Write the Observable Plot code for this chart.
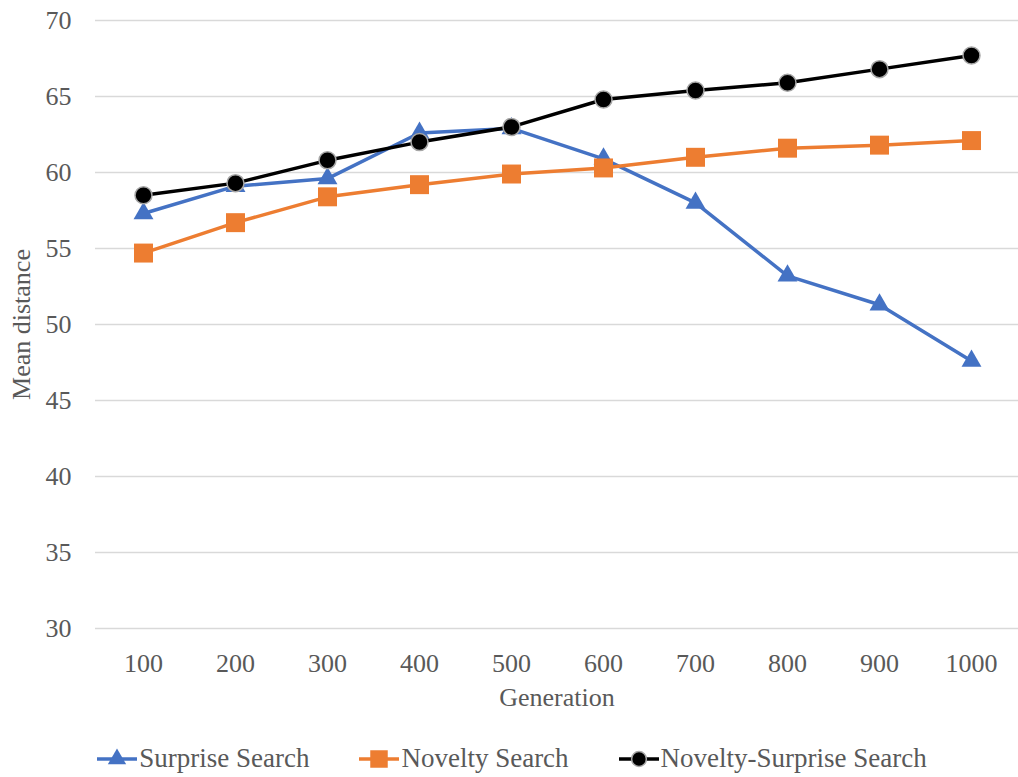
<!DOCTYPE html>
<html>
<head>
<meta charset="utf-8">
<script src="https://cdn.jsdelivr.net/npm/d3@7"></script>
<script src="https://cdn.jsdelivr.net/npm/@observablehq/plot@0.6"></script>
<style>
  html, body { margin: 0; padding: 0; background: #fff; }
  #chart { width: 1018px; }
  .legend { display: flex; justify-content: center; align-items: center; gap: 50px;
    font-family: "Liberation Serif", "Times New Roman", Tinos, "DejaVu Serif", serif; font-size: 27px; color: #595959;
    height: 57px; padding-top: 20px; box-sizing: border-box; padding-left: 6px; }
  .legend .item { display: flex; align-items: center; }
  .legend svg { display: block; margin-right: 2px; }
  svg text { font-family: "Liberation Serif", "Times New Roman", Tinos, "DejaVu Serif", serif; }
</style>
</head>
<body>
<div id="chart"></div>
<script>
const generations = [100, 200, 300, 400, 500, 600, 700, 800, 900, 1000];
const surprise = [57.3, 59.1, 59.6, 62.6, 62.9, 60.9, 58.0, 53.2, 51.3, 47.6];
const novelty = [54.7, 56.7, 58.4, 59.2, 59.9, 60.3, 61.0, 61.6, 61.8, 62.1];
const noveltySurprise = [58.5, 59.3, 60.8, 62.0, 63.0, 64.8, 65.4, 65.9, 66.8, 67.7];
const seriesNames = ["Surprise Search", "Novelty Search", "Novelty-Surprise Search"];
const yTicks = [30, 35, 40, 45, 50, 55, 60, 65, 70];

const colors = ["#4472C4", "#ED7D31", "#000000"];
const seriesValues = [surprise, novelty, noveltySurprise];
const tables = seriesValues.map((vals, i) =>
  generations.map((g, j) => ({ generation: g, value: vals[j], series: seriesNames[i] })));

const font = '"Liberation Serif", "Times New Roman", Tinos, "DejaVu Serif", serif';

const plot = Plot.plot({
  width: 1018,
  height: 720,
  marginTop: 20,
  marginBottom: 92,
  marginLeft: 95,
  marginRight: 0,
  style: { fontFamily: font, background: "#fff", overflow: "visible" },
  x: { type: "point", domain: generations, padding: 0.5 },
  y: { domain: [30, 70] },
  marks: [
    Plot.gridY(yTicks, { stroke: "#d9d9d9", strokeOpacity: 1, strokeWidth: 1.5 }),
    Plot.axisY(yTicks, { tickSize: 0, tickPadding: 24, fontSize: 26, fill: "#595959",
      label: "Mean distance", labelAnchor: "center", labelArrow: "none", labelOffset: 84 }),
    Plot.axisX(generations, { tickSize: 0, tickPadding: 25, fontSize: 26, fill: "#595959",
      tickFormat: d => String(d),
      label: "Generation", labelAnchor: "center", labelArrow: "none", labelOffset: 77 }),
    Plot.line(tables[0], { x: "generation", y: "value", stroke: colors[0], strokeWidth: 3.5 }),
    Plot.dot(tables[0], { x: "generation", y: "value", symbol: "triangle", r: 7.4, fill: colors[0] }),
    Plot.line(tables[1], { x: "generation", y: "value", stroke: colors[1], strokeWidth: 3.5 }),
    Plot.dot(tables[1], { x: "generation", y: "value", symbol: "square", r: 10.7, fill: colors[1] }),
    Plot.line(tables[2], { x: "generation", y: "value", stroke: colors[2], strokeWidth: 3.5 }),
    Plot.dot(tables[2], { x: "generation", y: "value", symbol: "circle", r: 8.5, fill: colors[2], stroke: "#a6a6a6", strokeWidth: 1.5 })
  ]
});
document.getElementById("chart").appendChild(plot);

// Legend
const legend = document.createElement("div");
legend.className = "legend";
const symbols = [d3.symbolTriangle, d3.symbolSquare, d3.symbolCircle];
const sizes = [Math.PI * 7.4 * 7.4, Math.PI * 10.7 * 10.7, Math.PI * 8 * 8];
seriesNames.forEach((name, i) => {
  const item = document.createElement("div");
  item.className = "item";
  const svg = d3.create("svg").attr("width", 40).attr("height", 28);
  svg.append("line").attr("x1", 0).attr("x2", 40).attr("y1", 14).attr("y2", 14)
    .attr("stroke", colors[i]).attr("stroke-width", 3.5);
  svg.append("path").attr("d", d3.symbol(symbols[i], sizes[i] * 0.85)())
    .attr("transform", "translate(20,14)").attr("fill", colors[i])
    .attr("stroke", i === 2 ? "#a6a6a6" : "none").attr("stroke-width", 1.5);
  item.appendChild(svg.node());
  const span = document.createElement("span");
  span.textContent = name;
  item.appendChild(span);
  legend.appendChild(item);
});
document.body.appendChild(legend);
</script>
</body>
</html>
